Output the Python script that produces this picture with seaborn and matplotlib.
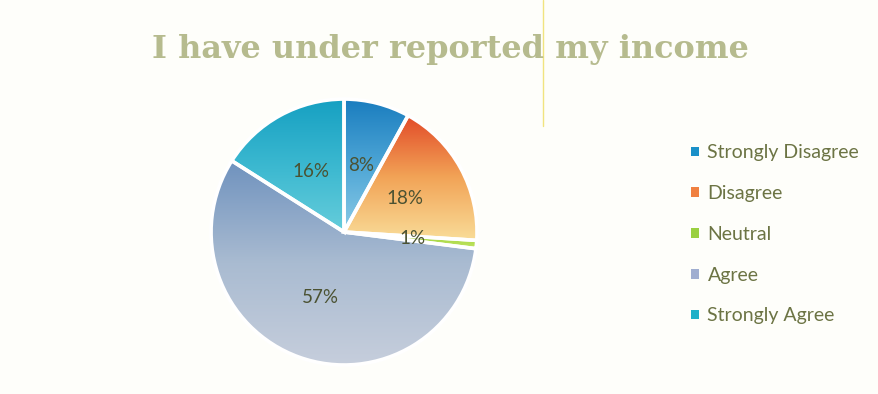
import numpy as np
import matplotlib
matplotlib.use("Agg")
import matplotlib.pyplot as plt
import seaborn as sns
from matplotlib.colors import LinearSegmentedColormap
from matplotlib.patches import Patch
from matplotlib.lines import Line2D

# Survey responses for "I have under reported my income"
categories = ["Strongly Disagree", "Disagree", "Neutral", "Agree", "Strongly Agree"]
shares = [8, 18, 1, 57, 16]

# Gradient fills per slice (bottom, middle, top) and flat legend swatches
gradients = [
    ["#8ccbe6", "#4ea6d6", "#1a7dbf"],
    ["#f9dc98", "#f2a457", "#e24a28"],
    ["#c4e466", "#aedb4c", "#96cf3c"],
    ["#c6cedc", "#a9bbd1", "#6f92be"],
    ["#66cddb", "#3bb8d0", "#16a0c2"],
]
swatches = ["#1a90c8", "#f08040", "#9ad040", "#a0aed0", "#20b0c8"]

sns.set_theme(style="white")
plt.rcParams["font.family"] = ["Lato", "DejaVu Sans"]

fig = plt.figure(figsize=(8.79, 3.94), dpi=100)
fig.patch.set_facecolor("#fefefa")

ax = fig.add_axes([0.2401, 0.0736, 0.3026, 0.675])
ax.set_facecolor("none")

wedges, texts, autotexts = ax.pie(
    shares,
    startangle=90,
    counterclock=False,
    autopct="%.0f%%",
    pctdistance=0.52,
    radius=1.0,
    wedgeprops=dict(edgecolor="white", linewidth=2.6),
    textprops=dict(color="#4b5232", fontsize=13.5),
)

# Vertical gradient inside each slice, clipped to the wedge outline
ramp = np.linspace(0, 1, 256).reshape(-1, 1)
for w, cols in zip(wedges, gradients):
    bb = w.get_path().get_extents()
    cmap = LinearSegmentedColormap.from_list("slice", cols)
    im = ax.imshow(ramp, origin="lower", cmap=cmap, aspect="auto",
                   extent=[bb.x0, bb.x1, bb.y0, bb.y1], zorder=1,
                   interpolation="bilinear")
    im.set_clip_path(w)
    w.set_facecolor("none")
    w.set_zorder(2)
for t in autotexts:
    t.set_zorder(3)

ax.set_xlim(-1.0, 1.0)
ax.set_ylim(-1.0, 1.0)
ax.set_aspect("equal")
ax.axis("off")

fig.text(0.512, 0.874, "I have under reported my income",
         ha="center", va="center", fontsize=23, fontweight="bold",
         family="DejaVu Serif", color="#b6bb8e")

handles = [Patch(facecolor=c, edgecolor="none") for c in swatches]
leg = fig.legend(handles, categories, loc="center left",
                 bbox_to_anchor=(0.775, 0.405), frameon=False,
                 fontsize=14, handlelength=0.4, handleheight=0.4,
                 handletextpad=0.45, labelspacing=1.22, borderpad=0)
for t in leg.get_texts():
    t.set_color("#6c7444")

# faint yellow rule near the top of the page
fig.add_artist(Line2D([0.6178, 0.6178], [1.0, 0.68], transform=fig.transFigure,
                      color="#f1e47f", linewidth=1.0))

fig.savefig("out.png", dpi=100, facecolor=fig.get_facecolor())
